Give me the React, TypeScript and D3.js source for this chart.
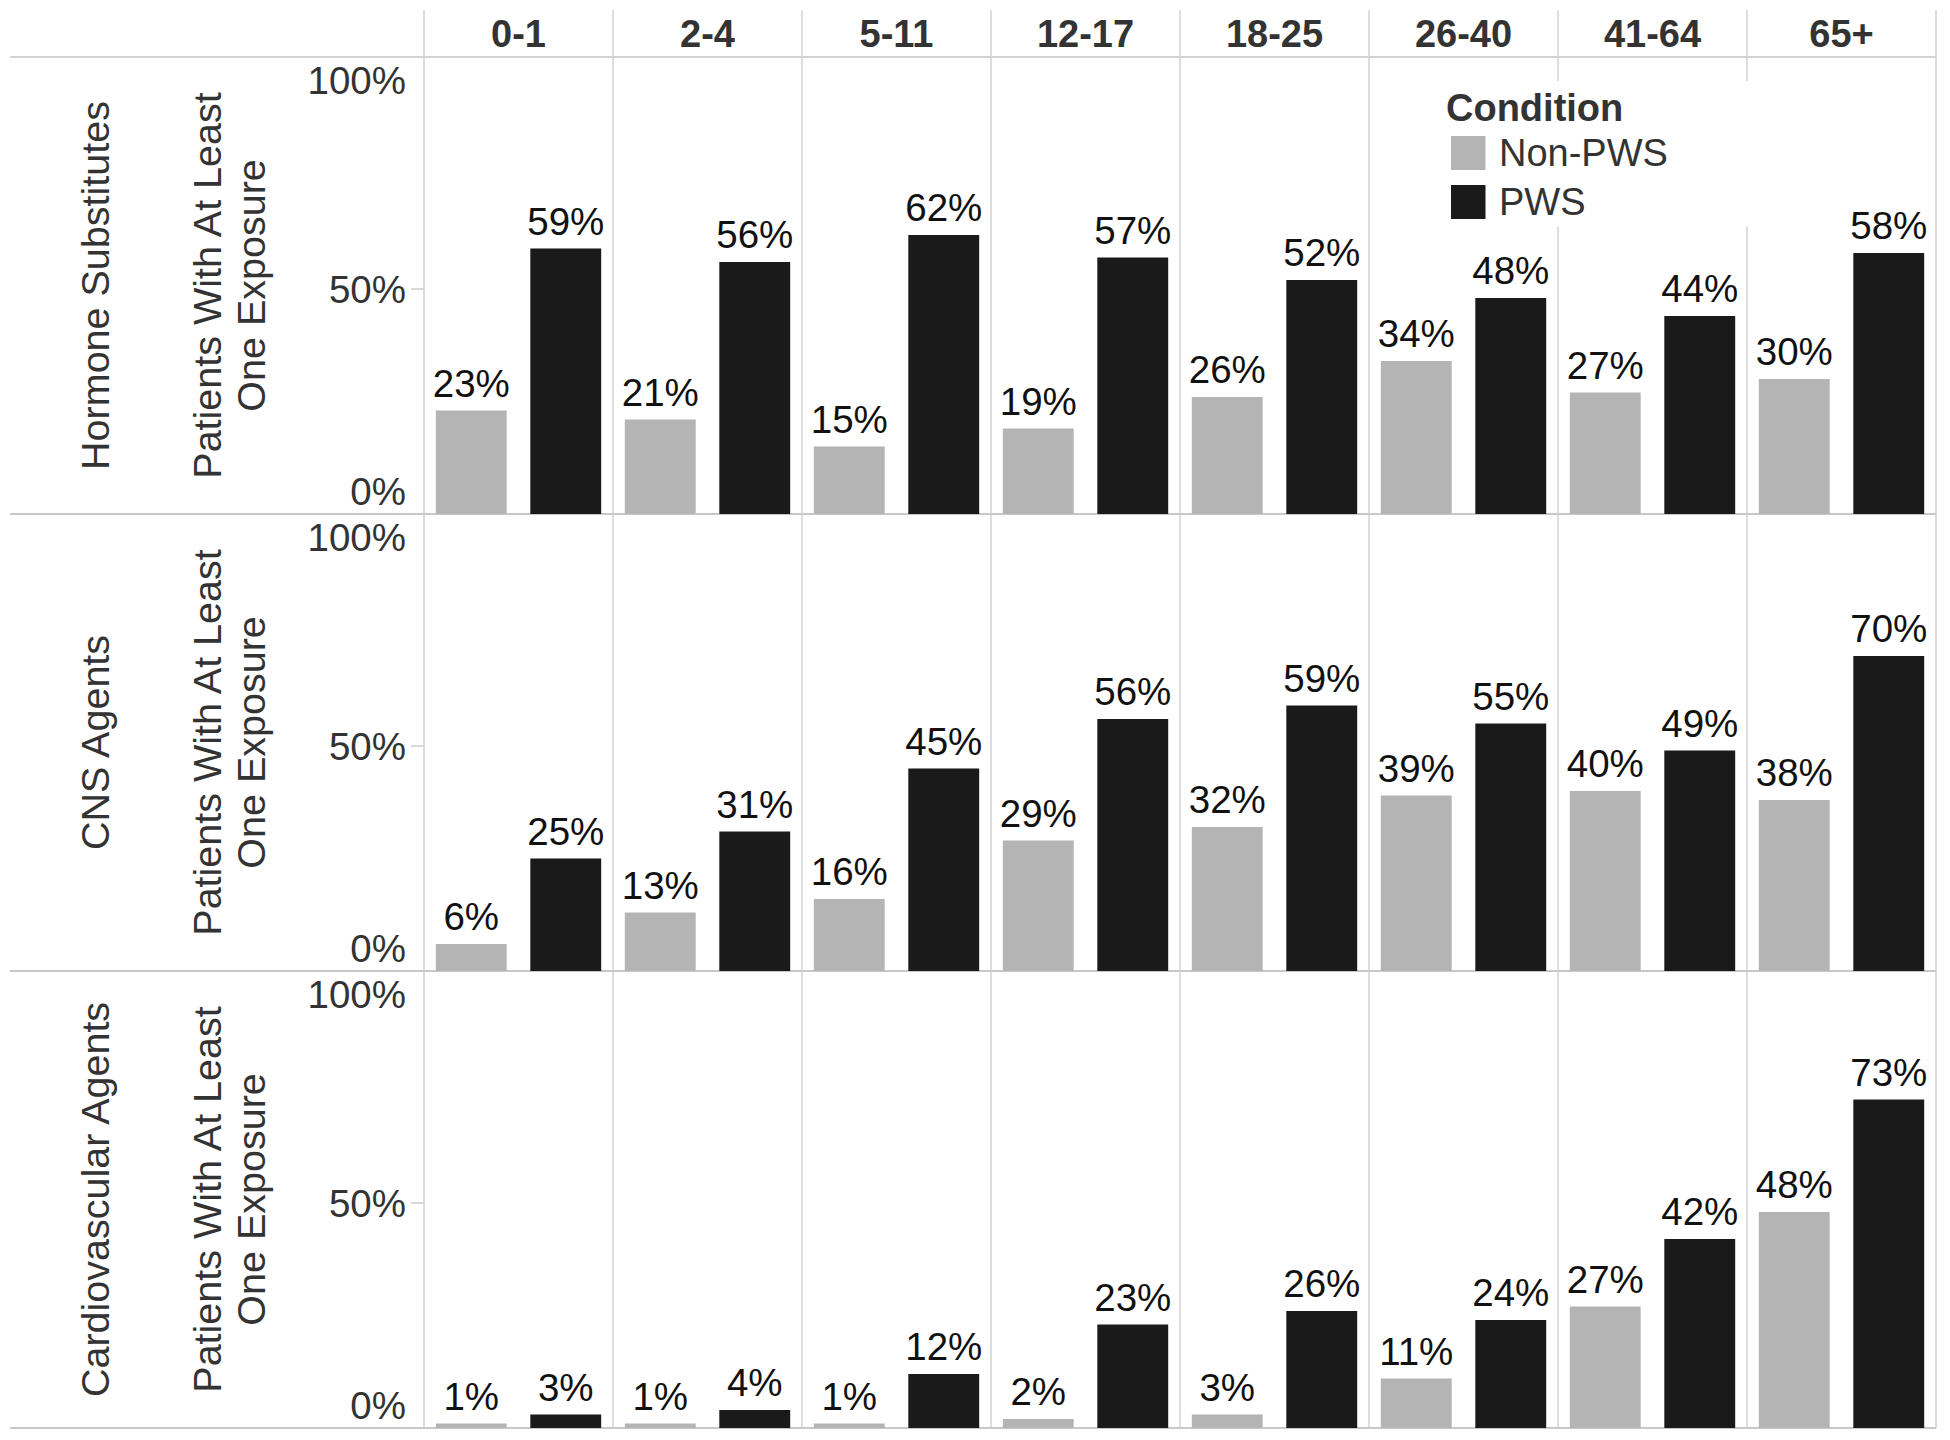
import React from 'react';
import * as d3 from 'd3';

const ageGroups = ['0-1', '2-4', '5-11', '12-17', '18-25', '26-40', '41-64', '65+'];
const conditions = ['Non-PWS', 'PWS'];
const drugClasses = ['Hormone Substitutes', 'CNS Agents', 'Cardiovascular Agents'];

const hormoneNonPWS = [23, 21, 15, 19, 26, 34, 27, 30];
const hormonePWS = [59, 56, 62, 57, 52, 48, 44, 58];
const cnsNonPWS = [6, 13, 16, 29, 32, 39, 40, 38];
const cnsPWS = [25, 31, 45, 56, 59, 55, 49, 70];
const cardioNonPWS = [1, 1, 1, 2, 3, 11, 27, 48];
const cardioPWS = [3, 4, 12, 23, 26, 24, 42, 73];

const yTicks = [0, 50, 100];
const yAxisTitle = ['Patients With At Least', 'One Exposure'];
const legendTitle = 'Condition';

const panelSeries = [
  [hormoneNonPWS, hormonePWS],
  [cnsNonPWS, cnsPWS],
  [cardioNonPWS, cardioPWS],
];

const W = 1950;
const H = 1440;
const FONT = "'Liberation Sans', Arial, Helvetica, sans-serif";
const colorScale = d3.scaleOrdinal<string, string>().domain(conditions).range(['#b4b4b4', '#1a1a1a']);

export default function App() {
  const lineLeft = 10;
  const plotLeft = 424;
  const plotRight = 1936;
  const headerTop = 10;
  const headerBottom = 57;
  const panelH = 457;
  const topPad = 7;

  const x = d3.scaleBand<string>().domain(ageGroups).range([plotLeft, plotRight]).padding(0);
  const inner = d3
    .scaleBand<string>()
    .domain(conditions)
    .range([0, x.bandwidth()])
    .paddingInner(0.25)
    .paddingOuter(0.125);

  const panels = drugClasses.map((name, i) => {
    const top = headerBottom + i * panelH;
    const bottom = top + panelH;
    const y = d3.scaleLinear().domain([0, 100]).range([bottom, top + topPad]);
    return { name, top, bottom, y, series: panelSeries[i] };
  });

  const gridColor = '#d2d2d2';
  const textGray = '#333333';

  return (
    <svg
      width={W}
      height={H}
      style={{ position: 'absolute', left: 0, top: 0, display: 'block', background: '#fff' }}
      fontFamily={FONT}
    >
      <rect x={0} y={0} width={W} height={H} fill="#ffffff" />
      {/* vertical column lines */}
      {ageGroups.map((g) => (
        <line
          key={'v' + g}
          x1={x(g)!}
          x2={x(g)!}
          y1={headerTop}
          y2={panels[panels.length - 1].bottom}
          stroke={gridColor}
          strokeWidth={1.5}
        />
      ))}
      <line x1={plotRight} x2={plotRight} y1={headerTop} y2={panels[panels.length - 1].bottom} stroke={gridColor} strokeWidth={1.5} />
      {/* header line */}
      <line x1={lineLeft} x2={plotRight} y1={headerBottom} y2={headerBottom} stroke={gridColor} strokeWidth={2} />
      {/* header labels */}
      {ageGroups.map((g) => (
        <text
          key={'h' + g}
          x={x(g)! + x.bandwidth() / 2}
          y={47}
          textAnchor="middle"
          fontSize={38}
          fontWeight="bold"
          fill={textGray}
        >
          {g}
        </text>
      ))}
      {/* panel separators */}
      {panels.map((p) => (
        <line key={'sep' + p.name} x1={lineLeft} x2={plotRight} y1={p.bottom} y2={p.bottom} stroke="#c8c8c8" strokeWidth={2} />
      ))}
      {/* legend background */}
      <rect x={1440} y={81} width={360} height={146} fill="#ffffff" />
      {panels.map((p) => {
        const cy = (p.top + p.bottom) / 2;
        return (
          <g key={p.name}>
            <text
              transform={`translate(109,${cy}) rotate(-90)`}
              textAnchor="middle"
              fontSize={39.5}
              fill={textGray}
            >
              {p.name}
            </text>
            {yAxisTitle.map((t, k) => (
              <text
                key={t}
                transform={`translate(${221 + k * 44},${cy}) rotate(-90)`}
                textAnchor="middle"
                fontSize={39.5}
                fill={textGray}
              >
                {t}
              </text>
            ))}
            {yTicks.map((v) => {
              const ty = Math.min(Math.max(p.y(v) + 13.8, p.top + 37), p.bottom - 9.5);
              return (
                <g key={'t' + v}>
                  {v > 0 && v < 100 && (
                    <line x1={411} x2={plotLeft} y1={p.y(v)} y2={p.y(v)} stroke="#cccccc" strokeWidth={1.5} />
                  )}
                  <text x={406} y={ty} textAnchor="end" fontSize={38.5} fill={textGray}>
                    {v + '%'}
                  </text>
                </g>
              );
            })}
            {ageGroups.map((g, gi) =>
              conditions.map((c, ci) => {
                const v = p.series[ci][gi];
                const bx = x(g)! + inner(c)!;
                return (
                  <g key={g + c}>
                    <rect
                      x={bx}
                      y={p.y(v)}
                      width={inner.bandwidth()}
                      height={p.y(0) - p.y(v)}
                      fill={colorScale(c)}
                    />
                    <text
                      x={bx + inner.bandwidth() / 2}
                      y={p.y(v) - 14}
                      textAnchor="middle"
                      fontSize={38.5}
                      fill="#111111"
                    >
                      {v + '%'}
                    </text>
                  </g>
                );
              })
            )}
          </g>
        );
      })}
      {/* legend */}
      <g>
        <text x={1446} y={120.5} fontSize={38} fontWeight="bold" fill={textGray}>
          {legendTitle}
        </text>
        {conditions.map((c, i) => (
          <g key={'lg' + c}>
            <rect x={1451} y={136 + i * 49} width={34.5} height={34} fill={colorScale(c)} />
            <text x={1499} y={165.5 + i * 49} fontSize={38} fill={textGray}>
              {c}
            </text>
          </g>
        ))}
      </g>
    </svg>
  );
}
